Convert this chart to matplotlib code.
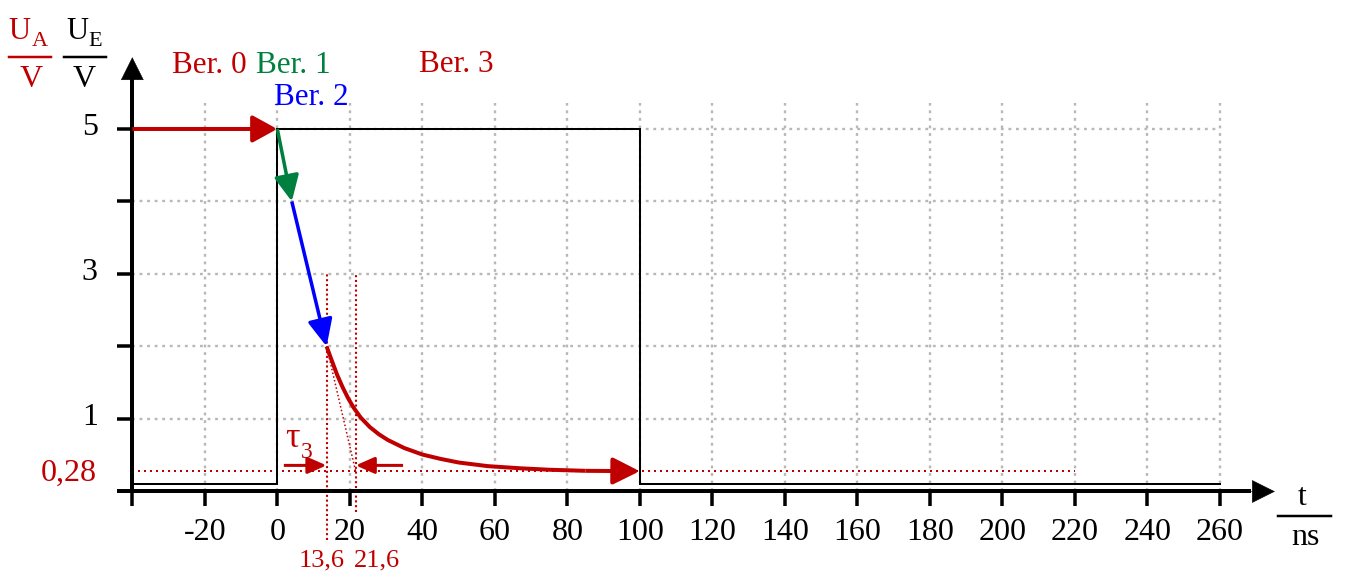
import matplotlib
matplotlib.use("Agg")
import matplotlib.pyplot as plt
import matplotlib.transforms as mtransforms
from matplotlib.patches import FancyArrowPatch
from matplotlib.lines import Line2D

# ---- data -------------------------------------------------------------
# input square pulse U_E (V) over time (ns)
t_input = [-40, 0, 0, 100, 100, 260]
u_input = [0.1, 0.1, 5, 5, 0.1, 0.1]

# output U_A, piecewise: Ber. 0 (hold), Ber. 1, Ber. 2 (ramps), Ber. 3 (decay)
t_ber0 = [-40, 0]
u_ber0 = [5, 5]
t_ber1 = [0, 4]
u_ber1 = [5, 4]
t_ber2 = [4, 13.6]
u_ber2 = [4, 2.0]
t_ber3 = [13.6, 15, 16.5, 18, 19.5, 21, 23, 25.5, 28, 30.5, 35, 40, 45,
          50, 58, 67, 75, 85, 100]
u_ber3 = [2.00, 1.81, 1.61, 1.44, 1.29, 1.16, 1.02, 0.89, 0.79, 0.71, 0.60,
          0.51, 0.45, 0.40, 0.35, 0.32, 0.30, 0.285, 0.28]

u_end = 0.28          # final value of U_A
t_tau_start = 13.6    # tangent start
t_tau_end = 21.6      # tangent meets final value

x_ticks = list(range(-40, 261, 20))
x_tick_labels = ["" if v == -40 else str(v) for v in x_ticks]
y_ticks = [1, 2, 3, 4, 5]
y_tick_labels = ["1", "", "3", "", "5"]
grid_x = list(range(-20, 261, 20))
grid_y = [1, 2, 3, 4, 5]

# ---- style ------------------------------------------------------------
RED = "#c00000"
GREEN = "#00803f"
BLUE = "#0000ff"
GRID = "#b8b8b8"
W, H = 1347, 579
PX = 72 / 100  # points per pixel at dpi 100
FS = 22.5

plt.rcParams["font.family"] = ["Liberation Serif", "DejaVu Serif"]

fig = plt.figure(figsize=(W / 100, H / 100), dpi=100)
ax = fig.add_axes([0, 0, 1, 1])
ax.set_xlim(-76.5, 295.1)
ax.set_ylim(-1.207, 6.779)
ax.patch.set_visible(False)


def arrow(p0, p1, color, lw_px, hl_px, hw_px, z=6):
    style = f"-|>,head_length={hl_px * PX},head_width={hw_px * PX / 2}"
    a = FancyArrowPatch(p0, p1, arrowstyle=style, mutation_scale=1,
                        color=color, lw=lw_px * PX, shrinkA=0, shrinkB=0,
                        capstyle="butt", zorder=z, clip_on=False)
    ax.add_patch(a)


def ptext(x, y, s, **kw):
    kw.setdefault("va", "baseline")
    kw.setdefault("fontsize", FS)
    fig.text(x / W, 1 - y / H, s, **kw)


def pline(x0, x1, y, color, lw_px=2.5):
    fig.add_artist(Line2D([x0 / W, x1 / W], [1 - y / H, 1 - y / H],
                          transform=fig.transFigure, color=color,
                          lw=lw_px * PX))


# grid
ax.vlines(grid_x, 0, 5.36, colors=GRID, linestyles=(0, (1.2, 2.0)),
          lw=1.7, zorder=1)
ax.hlines(grid_y, -40, 260, colors=GRID, linestyles=(0, (1.2, 2.0)),
          lw=1.7, zorder=1)

# axes lines with ticks
for side in ("top", "right"):
    ax.spines[side].set_visible(False)
ax.spines["left"].set_position(("data", -40))
ax.spines["bottom"].set_position(("data", 0))
ax.spines["left"].set_bounds(0, 5.75)
ax.spines["bottom"].set_bounds(-43.7, 268)
for side in ("left", "bottom"):
    ax.spines[side].set_linewidth(4 * PX)
    ax.spines[side].set_zorder(4)
ax.set_xticks(x_ticks, x_tick_labels)
ax.set_yticks(y_ticks, y_tick_labels)
ax.tick_params(axis="x", direction="out", length=15 * PX, width=3.5 * PX,
               labelsize=23, pad=8)
ax.tick_params(axis="y", direction="out", length=15 * PX, width=3.5 * PX,
               labelsize=23, pad=14)
shift = mtransforms.ScaledTranslation(0, 5 / 100, fig.dpi_scale_trans)
for lab in ax.get_yticklabels():
    lab.set_transform(lab.get_transform() + shift)

arrow((-40, 5.6), (-40, 5.99), "k", 0.5, 22, 22, z=5)
arrow((262, 0), (275.2, 0), "k", 0.5, 22, 22, z=5)

# final-value reference line
ax.hlines(u_end, -40, 220, colors=RED, linestyles=(0, (1, 2)), lw=2 * PX,
          zorder=2)

# input pulse
ax.plot(t_input, u_input, color="k", lw=2 * PX, zorder=3,
        solid_joinstyle="miter")

# tangent construction for tau_3
ax.vlines([t_tau_start, t_tau_end], [-0.67, -0.28], 3.0, colors=RED,
          linestyles=(0, (1, 1.3)), lw=1.5, zorder=2, clip_on=False)
ax.plot([t_tau_start, t_tau_end], [u_ber3[0], u_end], color=RED,
        ls=(0, (1, 1.5)), lw=1.1, zorder=2)

# output segments
arrow((t_ber0[0], u_ber0[0]), (t_ber0[1], u_ber0[1]), RED, 4, 21, 23)
arrow((t_ber1[0], u_ber1[0]), (t_ber1[1], u_ber1[1]), GREEN, 3.5, 22, 21)
arrow((t_ber2[0], u_ber2[0]), (t_ber2[1], u_ber2[1]), BLUE, 3.5, 23, 21)
ax.plot(t_ber3[:-1], u_ber3[:-1], color=RED, lw=4 * PX, zorder=5,
        solid_capstyle="butt", solid_joinstyle="round")
arrow((t_ber3[-2], u_ber3[-2]), (t_ber3[-1], u_ber3[-1]), RED, 4, 23, 23)

# tau_3 markers
arrow((1.8, 0.36), (t_tau_start, 0.36), RED, 3, 16, 14)
arrow((34.7, 0.36), (t_tau_end, 0.36), RED, 3, 16, 14)

# ---- annotations -------------------------------------------------------
ptext(172, 73, "Ber. 0", color=RED)
ptext(256, 73, "Ber. 1", color=GREEN)
ptext(274, 105, "Ber. 2", color=BLUE)
ptext(419, 72, "Ber. 3", color=RED)
ptext(97, 481, "0,28", color=RED, ha="right", fontsize=23)
ptext(321.5, 566, "13,6", color=RED, ha="center", fontsize=19)
ptext(376.5, 566, "21,6", color=RED, ha="center", fontsize=19)
ptext(285, 447, "τ", color=RED, fontsize=26)
ptext(301, 458, "3", color=RED, fontsize=17)

# axis quantity labels
ptext(8, 39, "U", color=RED, fontsize=22)
ptext(32, 46, "A", color=RED, fontsize=16)
pline(9, 51, 57, RED)
ptext(31, 87, "V", color=RED, ha="center", fontsize=23)
ptext(66, 39, "U", color="k", fontsize=22)
ptext(88, 46, "E", color="k", fontsize=16)
pline(64, 106, 57, "k")
ptext(84, 87, "V", color="k", ha="center", fontsize=23)
ptext(1302.5, 505, "t", color="k", ha="center", fontsize=23)
pline(1278, 1331, 516, "k")
ptext(1305, 545, "ns", color="k", ha="center", fontsize=23)

fig.savefig("out.png", dpi=100, facecolor="white")
